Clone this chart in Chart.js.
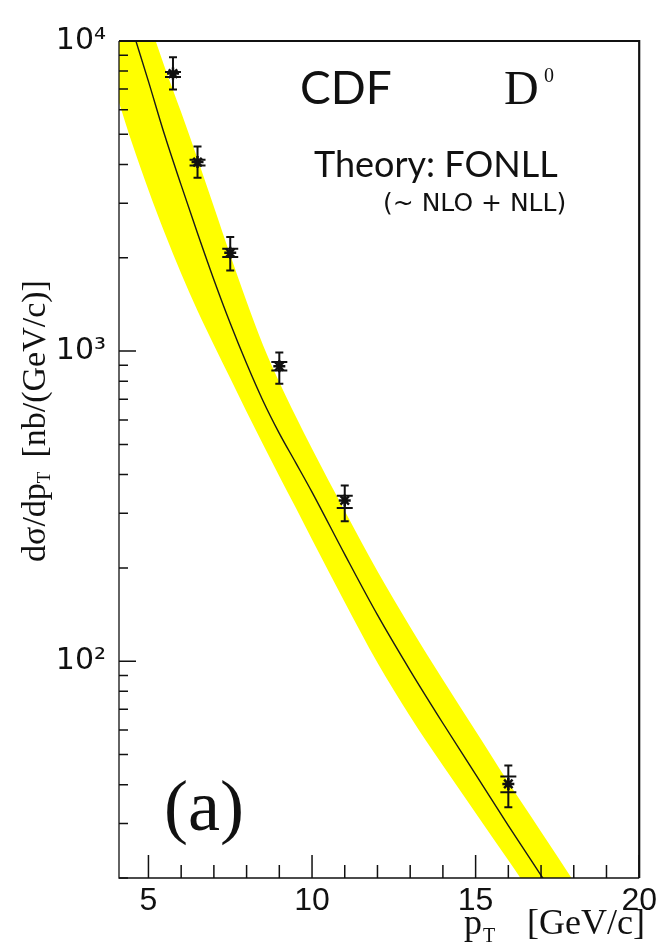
<!DOCTYPE html>
<html>
<head>
<meta charset="utf-8">
<script src="https://cdn.jsdelivr.net/npm/chart.js@4.4.1/dist/chart.umd.min.js"></script>
<style>
  html, body { margin: 0; padding: 0; background: #fff; }
  #wrap { width: 661px; height: 952px; }
</style>
</head>
<body>
<div id="wrap"><canvas id="xsec" width="661" height="952"></canvas></div>
<script>
// FONLL theory curve and its uncertainty band
const theoryPt      = [4, 4.5, 5, 5.5, 6, 6.5, 7, 7.5, 8, 8.5, 9, 9.5, 10, 11, 12, 13, 14, 15, 16, 17, 18];
const theoryCentral = [16400, 10960, 7410, 4955, 3430, 2400, 1700, 1230, 912, 692, 543, 437, 351, 221, 141, 93.3, 63.1, 43.2, 29.5, 20.4, 14.1];
const theoryUpper   = [26000, 17400, 11750, 8220, 5890, 4170, 2920, 2040, 1445, 1047, 794, 617, 484, 305, 195, 129, 87.1, 59.6, 40.7, 28.2, 19.5];
const theoryLower   = [6840, 4680, 3310, 2400, 1780, 1350, 1047, 817, 638, 501, 395, 313, 247, 155, 98.9, 66.4, 46.1, 32.4, 22.8, 16.0, 11.4];

// CDF D0 points
const dataPt    = [5.75, 6.5, 7.5, 9, 11, 16];
const dataXsec  = [7850, 4070, 2075, 893, 330, 40.2];
const totLow    = [6970, 3620, 1820, 785, 283, 33.8];
const totHigh   = [8870, 4570, 2335, 990, 369, 46.1];
const statLow   = [7650, 3970, 2010, 866, 312, 37.8];
const statHigh  = [7940, 4140, 2140, 922, 342, 42.5];

// axes
const xMajorTicks = [5, 10, 15, 20];
const xMinorTicks = [5, 6, 7, 8, 9, 10, 11, 12, 13, 14, 15, 16, 17, 18, 19, 20];
const yMajorTicks = [100, 1000, 10000];
const yMinorTicks = [20, 30, 40, 50, 60, 70, 80, 90, 200, 300, 400, 500, 600, 700, 800, 900,
                     2000, 3000, 4000, 5000, 6000, 7000, 8000, 9000];
const yTickLabels = { 100: '10\u00b2', 1000: '10\u00b3', 10000: '10\u2074' };

const pts = (xs, ys) => xs.map((v, i) => ({ x: v, y: ys[i] }));

// ticks inside the frame, error bars, frame and the text on top
const decorations = {
  id: 'decorations',
  afterDatasetsDraw(chart) {
    const { ctx, chartArea: a, scales: { x, y } } = chart;
    ctx.save();
    ctx.strokeStyle = '#111';

    ctx.lineWidth = 1.5;
    ctx.beginPath();
    xMinorTicks.forEach(v => {
      const px = x.getPixelForValue(v);
      const len = xMajorTicks.includes(v) ? 23 : 13;
      ctx.moveTo(px, a.bottom);
      ctx.lineTo(px, a.bottom - len);
    });
    yMinorTicks.concat(yMajorTicks).forEach(v => {
      const py = y.getPixelForValue(v);
      const len = yMajorTicks.includes(v) ? 17 : 9;
      ctx.moveTo(a.left, py);
      ctx.lineTo(a.left + len, py);
    });
    ctx.stroke();

    // error bars: total with small caps, stat with wide bars
    ctx.lineWidth = 2;
    ctx.beginPath();
    dataPt.forEach((v, i) => {
      const px = x.getPixelForValue(v);
      const lo = y.getPixelForValue(totLow[i]);
      const hi = y.getPixelForValue(totHigh[i]);
      ctx.moveTo(px, lo); ctx.lineTo(px, hi);
      ctx.moveTo(px - 4, lo); ctx.lineTo(px + 4, lo);
      ctx.moveTo(px - 4, hi); ctx.lineTo(px + 4, hi);
      [statLow[i], statHigh[i]].forEach(s => {
        const ps = y.getPixelForValue(s);
        ctx.moveTo(px - 8, ps); ctx.lineTo(px + 8, ps);
      });
    });
    ctx.stroke();

    // frame
    ctx.lineWidth = 1.3;
    ctx.beginPath();
    ctx.moveTo(a.left, a.top); ctx.lineTo(a.left, a.bottom); ctx.lineTo(a.right, a.bottom);
    ctx.stroke();
    ctx.lineWidth = 2.2;
    ctx.beginPath();
    ctx.moveTo(a.left, a.top); ctx.lineTo(a.right, a.top); ctx.lineTo(a.right, a.bottom);
    ctx.stroke();
    ctx.restore();
  },
  afterDraw(chart) {
    const { ctx } = chart;
    ctx.save();
    ctx.fillStyle = '#111';
    ctx.textAlign = 'left';
    ctx.textBaseline = 'alphabetic';

    ctx.font = '46px Lato';
    ctx.fillText('CDF', 300, 104);
    ctx.font = '48px "Liberation Serif"';
    ctx.fillText('D', 504, 104);
    ctx.font = '20px "Liberation Serif"';
    ctx.fillText('0', 544, 82);
    ctx.font = '36px Lato';
    ctx.fillText('Theory: FONLL', 314, 177);
    ctx.font = '25px "DejaVu Sans"';
    ctx.fillText('(~ NLO + NLL)', 383, 211);
    ctx.font = '72px "Liberation Serif"';
    ctx.fillText('(a)', 164, 830);

    // x title: p_T [GeV/c]
    ctx.font = '36px "Liberation Serif"';
    const tail = '[GeV/c]';
    const tailW = ctx.measureText(tail).width;
    ctx.fillText(tail, 645 - tailW, 934);
    ctx.fillText('p', 464, 934);
    ctx.font = '20px "Liberation Serif"';
    ctx.fillText('T', 483, 942);

    // y title: dσ/dp_T [nb/(GeV/c)], rotated
    ctx.translate(36, 421);
    ctx.rotate(-Math.PI / 2);
    ctx.textBaseline = 'middle';
    ctx.font = '34px "Liberation Serif"';
    const head = 'd\u03c3/dp';
    const unit = '[nb/(GeV/c)]';
    const headW = ctx.measureText(head).width;
    const unitW = ctx.measureText(unit).width;
    ctx.font = '19px "Liberation Serif"';
    const subW = ctx.measureText('T').width;
    const gap = 14;
    let cx = -(headW + subW + gap + unitW) / 2;
    ctx.font = '34px "Liberation Serif"';
    ctx.fillText(head, cx, 0);
    cx += headW;
    ctx.font = '19px "Liberation Serif"';
    ctx.fillText('T', cx, 9);
    cx += subW + gap;
    ctx.font = '34px "Liberation Serif"';
    ctx.fillText(unit, cx, 0);
    ctx.restore();
  }
};

new Chart(document.getElementById('xsec'), {
  type: 'scatter',
  data: {
    datasets: [
      {
        label: 'FONLL low',
        data: pts(theoryPt, theoryLower),
        showLine: true,
        borderWidth: 0,
        pointRadius: 0,
        cubicInterpolationMode: 'monotone',
        order: 3,
        fill: false
      },
      {
        label: 'FONLL high',
        data: pts(theoryPt, theoryUpper),
        showLine: true,
        borderWidth: 0,
        pointRadius: 0,
        cubicInterpolationMode: 'monotone',
        backgroundColor: '#ffff00',
        order: 2,
        fill: '-1'
      },
      {
        label: 'FONLL',
        data: pts(theoryPt, theoryCentral),
        showLine: true,
        borderColor: '#1a1a1a',
        borderWidth: 1.4,
        pointRadius: 0,
        cubicInterpolationMode: 'monotone',
        order: 1,
        fill: false
      },
      {
        label: 'CDF D0',
        data: pts(dataPt, dataXsec),
        showLine: false,
        pointStyle: 'star',
        pointRadius: 6,
        borderWidth: 2.5,
        borderColor: '#111',
        backgroundColor: '#111',
        order: 0
      }
    ]
  },
  options: {
    responsive: false,
    animation: false,
    layout: { padding: { top: 41, right: 18, left: 0, bottom: 0 } },
    plugins: {
      legend: { display: false },
      tooltip: { enabled: false }
    },
    scales: {
      x: {
        type: 'linear',
        min: 4.1,
        max: 20,
        grid: { display: false, drawTicks: false },
        border: { display: false },
        ticks: {
          color: '#111',
          padding: 4,
          maxRotation: 0,
          font: { family: '"Liberation Sans"', size: 32 }
        },
        afterBuildTicks: s => { s.ticks = xMajorTicks.map(v => ({ value: v })); },
        afterFit: s => { s.height = 74; }
      },
      y: {
        type: 'logarithmic',
        min: 20,
        max: 10000,
        grid: { display: false, drawTicks: false },
        border: { display: false },
        ticks: {
          color: '#111',
          padding: 13,
          font: { family: '"DejaVu Sans"', size: 30 },
          callback: v => yTickLabels[v] || ''
        },
        afterBuildTicks: s => { s.ticks = yMajorTicks.map(v => ({ value: v })); },
        afterFit: s => { s.width = 119; }
      }
    }
  },
  plugins: [decorations]
});
</script>
</body>
</html>
